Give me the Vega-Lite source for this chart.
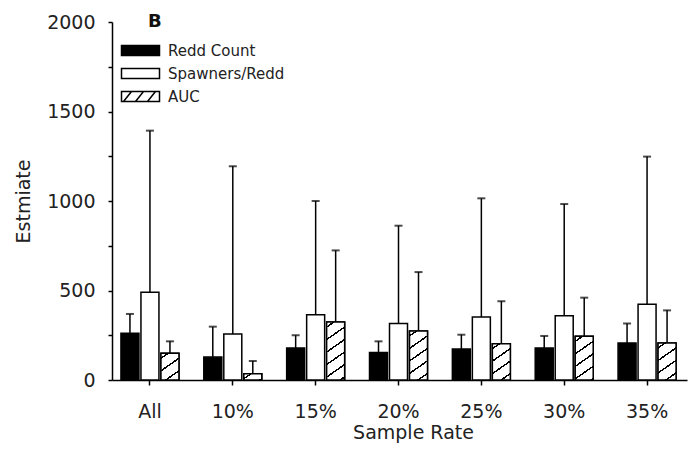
{
  "$schema": "https://vega.github.io/schema/vega-lite/v6.json",
  "width": 575,
  "height": 358,
  "autosize": "none",
  "padding": {"left": 112, "top": 22, "right": 3, "bottom": 71},
  "background": "white",
  "config": {
    "view": {"stroke": null},
    "font": "DejaVu Sans",
    "axis": {
      "domainColor": "#000",
      "domainWidth": 1.5,
      "tickColor": "#000",
      "tickWidth": 1.5,
      "tickSize": 4,
      "labelFontSize": 19,
      "labelColor": "#222",
      "titleFontSize": 19,
      "titleFontWeight": "normal",
      "titleColor": "#222",
      "grid": false
    }
  },
  "title": {
    "text": "B",
    "anchor": "start",
    "frame": "group",
    "fontSize": 18,
    "fontWeight": "bold",
    "color": "#111",
    "dx": 36,
    "dy": 26,
    "offset": -6,
    "baseline": "alphabetic"
  },
  "data": {
    "values": [
      {"rate": "All", "series": "Redd Count", "value": 261, "upper": 369},
      {"rate": "All", "series": "Spawners/Redd", "value": 490, "upper": 1393},
      {"rate": "All", "series": "AUC", "value": 149, "upper": 216},
      {"rate": "10%", "series": "Redd Count", "value": 128, "upper": 298},
      {"rate": "10%", "series": "Spawners/Redd", "value": 257, "upper": 1194},
      {"rate": "10%", "series": "AUC", "value": 35, "upper": 106},
      {"rate": "15%", "series": "Redd Count", "value": 179, "upper": 250},
      {"rate": "15%", "series": "Spawners/Redd", "value": 365, "upper": 1000},
      {"rate": "15%", "series": "AUC", "value": 324, "upper": 724},
      {"rate": "20%", "series": "Redd Count", "value": 153, "upper": 216},
      {"rate": "20%", "series": "Spawners/Redd", "value": 315, "upper": 862},
      {"rate": "20%", "series": "AUC", "value": 274, "upper": 603},
      {"rate": "25%", "series": "Redd Count", "value": 173, "upper": 253},
      {"rate": "25%", "series": "Spawners/Redd", "value": 352, "upper": 1015},
      {"rate": "25%", "series": "AUC", "value": 203, "upper": 440},
      {"rate": "30%", "series": "Redd Count", "value": 179, "upper": 246},
      {"rate": "30%", "series": "Spawners/Redd", "value": 359, "upper": 983},
      {"rate": "30%", "series": "AUC", "value": 244, "upper": 460},
      {"rate": "35%", "series": "Redd Count", "value": 207, "upper": 315},
      {"rate": "35%", "series": "Spawners/Redd", "value": 423, "upper": 1248},
      {"rate": "35%", "series": "AUC", "value": 207, "upper": 389}
    ]
  },
  "encoding": {
    "x": {
      "field": "rate",
      "type": "nominal",
      "sort": ["All", "10%", "15%", "20%", "25%", "30%", "35%"],
      "scale": {"paddingInner": 0.3, "paddingOuter": 0.12, "align": 0.45},
      "axis": {
        "title": "Sample Rate",
        "labelAngle": 0,
        "labelPadding": 17,
        "titlePadding": 2,
        "titleX": 301,
        "tickSize": 5
      }
    },
    "xOffset": {
      "field": "series",
      "type": "nominal",
      "scale": {"domain": ["Redd Count", "Spawners/Redd", "AUC"], "paddingInner": 0.1, "paddingOuter": 0}
    }
  },
  "layer": [
    {
      "mark": {"type": "rule", "color": "#000", "strokeWidth": 1.5},
      "encoding": {
        "y": {
          "field": "value",
          "type": "quantitative",
          "scale": {"domain": [0, 2000], "nice": false},
          "axis": {
            "title": "Estmiate",
            "values": [0, 250, 500, 750, 1000, 1250, 1500, 1750, 2000],
            "labelExpr": "datum.value % 500 === 0 ? datum.label : ''",
            "format": "d",
            "labelPadding": 13,
            "titlePadding": 13
          }
        },
        "y2": {"field": "upper"}
      }
    },
    {
      "mark": {"type": "tick", "color": "#000", "thickness": 2, "size": 8, "orient": "horizontal"},
      "encoding": {
        "y": {"field": "upper", "type": "quantitative"}
      }
    },
    {
      "mark": {"type": "bar", "stroke": "#000", "strokeWidth": 1.5},
      "encoding": {
        "y": {"field": "value", "type": "quantitative"},
        "fill": {
          "field": "series",
          "type": "nominal",
          "scale": {"domain": ["Redd Count", "Spawners/Redd", "AUC"], "range": ["#000000", "#ffffff", "#ffffff"]},
          "legend": {
            "title": null,
            "orient": "none",
            "legendX": 21,
            "legendY": 21,
            "padding": 0,
            "symbolSize": 100,
            "symbolStrokeColor": "#000",
            "symbolStrokeWidth": 1.5,
            "labelFontSize": 15,
            "labelColor": "#222",
            "labelOffset": 20,
            "rowPadding": 6,
            "encode": {
              "symbols": {
                "update": {
                  "shape": {"signal": "datum.value === 'AUC' ? 'M-3.8,-1H3.8V1H-3.8Z M-3.4,1L-1.8,-1 M-1.0,1L0.6,-1 M1.4,1L3.0,-1' : 'M-3.8,-1H3.8V1H-3.8Z'"},
                  "stroke": {"value": "#000"},
                  "strokeWidth": {"value": 1.5}
                }
              }
            }
          }
        }
      }
    },
    {
      "transform": [{"filter": "datum.series === 'AUC'"}],
      "mark": {"type": "bar", "stroke": "#000", "strokeWidth": 1.5},
      "encoding": {
        "y": {"field": "value", "type": "quantitative"},
        "fill": {
          "condition": [
            {"test": "datum.rate === 'All'", "value": {"gradient": "linear", "x1": 0, "y1": 0, "x2": 0.5687, "y2": 1.2037, "stops": [
              {"offset": 0, "color": "#fff"},
              {"offset": 0.1044, "color": "#fff"}, {"offset": 0.1044, "color": "#000"}, {"offset": 0.1502, "color": "#000"}, {"offset": 0.1502, "color": "#fff"},
              {"offset": 0.4227, "color": "#fff"}, {"offset": 0.4227, "color": "#000"}, {"offset": 0.4685, "color": "#000"}, {"offset": 0.4685, "color": "#fff"},
              {"offset": 0.7410, "color": "#fff"}, {"offset": 0.7410, "color": "#000"}, {"offset": 0.7869, "color": "#000"}, {"offset": 0.7869, "color": "#fff"},
              {"offset": 1, "color": "#fff"}]}},
            {"test": "datum.rate === '10%'", "value": {"gradient": "linear", "x1": 0, "y1": 0, "x2": 1.2003, "y2": 0.5973, "stops": [
              {"offset": 0, "color": "#fff"},
              {"offset": 0.2173, "color": "#fff"}, {"offset": 0.2173, "color": "#000"}, {"offset": 0.3127, "color": "#000"}, {"offset": 0.3127, "color": "#fff"},
              {"offset": 0.8797, "color": "#fff"}, {"offset": 0.8797, "color": "#000"}, {"offset": 0.9751, "color": "#000"}, {"offset": 0.9751, "color": "#fff"},
              {"offset": 1, "color": "#fff"}]}},
            {"test": "datum.rate === '15%'", "value": {"gradient": "linear", "x1": 0, "y1": 0, "x2": 0.2525, "y2": 1.1623, "stops": [
              {"offset": 0, "color": "#fff"},
              {"offset": 0.0581, "color": "#fff"}, {"offset": 0.0581, "color": "#000"}, {"offset": 0.0836, "color": "#000"}, {"offset": 0.0836, "color": "#fff"},
              {"offset": 0.2351, "color": "#fff"}, {"offset": 0.2351, "color": "#000"}, {"offset": 0.2606, "color": "#000"}, {"offset": 0.2606, "color": "#fff"},
              {"offset": 0.4122, "color": "#fff"}, {"offset": 0.4122, "color": "#000"}, {"offset": 0.4377, "color": "#000"}, {"offset": 0.4377, "color": "#fff"},
              {"offset": 0.5892, "color": "#fff"}, {"offset": 0.5892, "color": "#000"}, {"offset": 0.6147, "color": "#000"}, {"offset": 0.6147, "color": "#fff"},
              {"offset": 0.7663, "color": "#fff"}, {"offset": 0.7663, "color": "#000"}, {"offset": 0.7918, "color": "#000"}, {"offset": 0.7918, "color": "#fff"},
              {"offset": 0.9433, "color": "#fff"}, {"offset": 0.9433, "color": "#000"}, {"offset": 0.9688, "color": "#000"}, {"offset": 0.9688, "color": "#fff"},
              {"offset": 1, "color": "#fff"}]}},
            {"test": "datum.rate === '20%'", "value": {"gradient": "linear", "x1": 0, "y1": 0, "x2": 0.3029, "y2": 1.1791, "stops": [
              {"offset": 0, "color": "#fff"},
              {"offset": 0.0665, "color": "#fff"}, {"offset": 0.0665, "color": "#000"}, {"offset": 0.0957, "color": "#000"}, {"offset": 0.0957, "color": "#fff"},
              {"offset": 0.2693, "color": "#fff"}, {"offset": 0.2693, "color": "#000"}, {"offset": 0.2985, "color": "#000"}, {"offset": 0.2985, "color": "#fff"},
              {"offset": 0.4720, "color": "#fff"}, {"offset": 0.4720, "color": "#000"}, {"offset": 0.5012, "color": "#000"}, {"offset": 0.5012, "color": "#fff"},
              {"offset": 0.6748, "color": "#fff"}, {"offset": 0.6748, "color": "#000"}, {"offset": 0.7040, "color": "#000"}, {"offset": 0.7040, "color": "#fff"},
              {"offset": 0.8775, "color": "#fff"}, {"offset": 0.8775, "color": "#000"}, {"offset": 0.9067, "color": "#000"}, {"offset": 0.9067, "color": "#fff"},
              {"offset": 1, "color": "#fff"}]}},
            {"test": "datum.rate === '25%'", "value": {"gradient": "linear", "x1": 0, "y1": 0, "x2": 0.4168, "y2": 1.2023, "stops": [
              {"offset": 0, "color": "#fff"},
              {"offset": 0.0838, "color": "#fff"}, {"offset": 0.0838, "color": "#000"}, {"offset": 0.1206, "color": "#000"}, {"offset": 0.1206, "color": "#fff"},
              {"offset": 0.3392, "color": "#fff"}, {"offset": 0.3392, "color": "#000"}, {"offset": 0.3760, "color": "#000"}, {"offset": 0.3760, "color": "#fff"},
              {"offset": 0.5946, "color": "#fff"}, {"offset": 0.5946, "color": "#000"}, {"offset": 0.6314, "color": "#000"}, {"offset": 0.6314, "color": "#fff"},
              {"offset": 0.8500, "color": "#fff"}, {"offset": 0.8500, "color": "#000"}, {"offset": 0.8868, "color": "#000"}, {"offset": 0.8868, "color": "#fff"},
              {"offset": 1, "color": "#fff"}]}},
            {"test": "datum.rate === '30%'", "value": {"gradient": "linear", "x1": 0, "y1": 0, "x2": 0.3431, "y2": 1.1894, "stops": [
              {"offset": 0, "color": "#fff"},
              {"offset": 0.0729, "color": "#fff"}, {"offset": 0.0729, "color": "#000"}, {"offset": 0.1048, "color": "#000"}, {"offset": 0.1048, "color": "#fff"},
              {"offset": 0.2950, "color": "#fff"}, {"offset": 0.2950, "color": "#000"}, {"offset": 0.3269, "color": "#000"}, {"offset": 0.3269, "color": "#fff"},
              {"offset": 0.5171, "color": "#fff"}, {"offset": 0.5171, "color": "#000"}, {"offset": 0.5490, "color": "#000"}, {"offset": 0.5490, "color": "#fff"},
              {"offset": 0.7392, "color": "#fff"}, {"offset": 0.7392, "color": "#000"}, {"offset": 0.7711, "color": "#000"}, {"offset": 0.7711, "color": "#fff"},
              {"offset": 0.9613, "color": "#fff"}, {"offset": 0.9613, "color": "#000"}, {"offset": 0.9932, "color": "#000"}, {"offset": 0.9932, "color": "#fff"},
              {"offset": 1, "color": "#fff"}]}},
            {"test": "datum.rate === '35%'", "value": {"gradient": "linear", "x1": 0, "y1": 0, "x2": 0.4085, "y2": 1.2012, "stops": [
              {"offset": 0, "color": "#fff"},
              {"offset": 0.0826, "color": "#fff"}, {"offset": 0.0826, "color": "#000"}, {"offset": 0.1188, "color": "#000"}, {"offset": 0.1188, "color": "#fff"},
              {"offset": 0.3343, "color": "#fff"}, {"offset": 0.3343, "color": "#000"}, {"offset": 0.3706, "color": "#000"}, {"offset": 0.3706, "color": "#fff"},
              {"offset": 0.5861, "color": "#fff"}, {"offset": 0.5861, "color": "#000"}, {"offset": 0.6224, "color": "#000"}, {"offset": 0.6224, "color": "#fff"},
              {"offset": 0.8379, "color": "#fff"}, {"offset": 0.8379, "color": "#000"}, {"offset": 0.8741, "color": "#000"}, {"offset": 0.8741, "color": "#fff"},
              {"offset": 1, "color": "#fff"}]}}
          ],
          "value": "#fff"
        }
      }
    }
  ]
}
